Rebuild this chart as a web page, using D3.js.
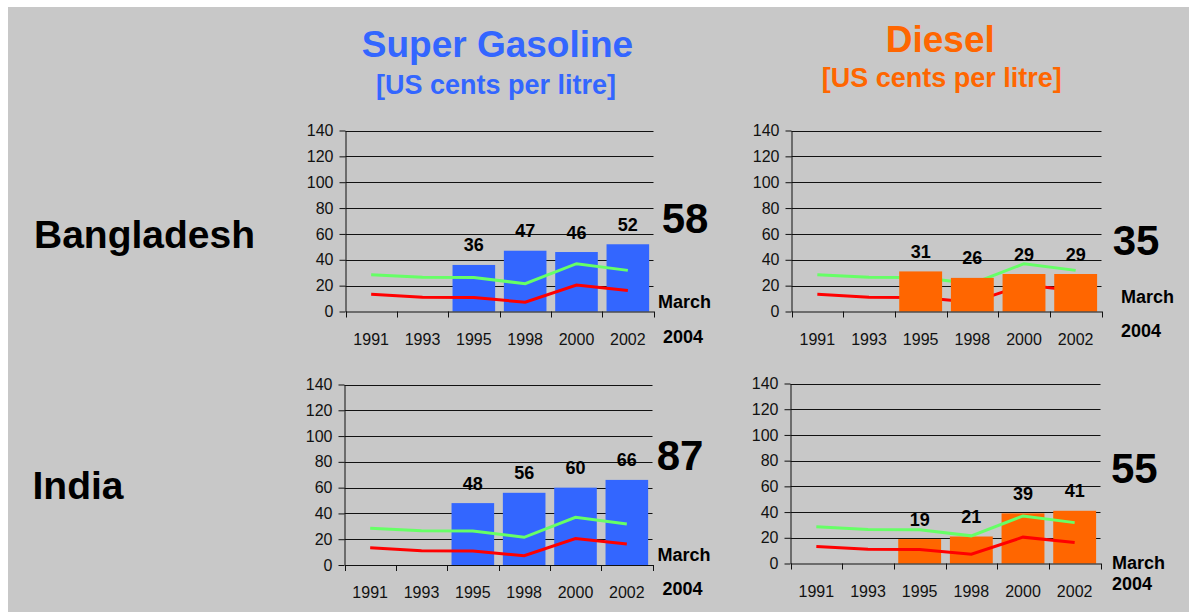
<!DOCTYPE html>
<html><head><meta charset="utf-8">
<script src="https://cdn.jsdelivr.net/npm/d3@7"></script>
<style>
body{margin:0;background:#fff;}
svg{display:block;font-family:"Liberation Sans",Arial,Helvetica,sans-serif;}
</style>
</head><body>
<svg id="chart" width="1189" height="612"></svg>
<script>
// ---------- data ----------
const years = ["1991","1993","1995","1998","2000","2002"];
const yTicks = [0,20,40,60,80,100,120,140];
const gasolineBangladesh = [null,null,36,47,46,52];
const dieselBangladesh   = [null,null,31,26,29,29];
const gasolineIndia      = [null,null,48,56,60,66];
const dieselIndia        = [null,null,19,21,39,41];
const greenLine = [28.5,26.5,26.3,21.5,37,31.8];
const redLine   = [13.3,11,10.8,7.2,20.5,16.3];
const march2004Values = [58,35,87,55]; // BD gasoline, BD diesel, IN gasoline, IN diesel
const fuelTitles = ["Super Gasoline","Diesel"];
const unitLabel = "[US cents per litre]";
const countries = ["Bangladesh","India"];
const latestLabel = ["March","2004"];

// ---------- drawing ----------
const svg = d3.select("#chart");
svg.append("rect").attr("x",8).attr("y",7).attr("width",1181).attr("height",605).attr("fill","#c8c8c8");

const BLUE = "#3366ff", ORANGE = "#ff6600", GREEN = "#66ff66", RED = "#ff0000", INK = "#111";

// titles
const titleLayout = [
  {cx:497.5, ty:56.7, scx:496, sy:94, color:BLUE},
  {cx:940.3, ty:51.7, scx:941.7, sy:87.3, color:ORANGE}
];
fuelTitles.forEach((t,i)=>{
  const L = titleLayout[i];
  svg.append("text").attr("x",L.cx).attr("y",L.ty).attr("text-anchor","middle")
    .attr("font-size",37).attr("font-weight","bold").attr("fill",L.color).text(t);
  svg.append("text").attr("x",L.scx).attr("y",L.sy).attr("text-anchor","middle")
    .attr("font-size",27).attr("font-weight","bold").attr("fill",L.color).text(unitLabel);
});

// country labels
const countryLayout = [{x:34,y:248.3},{x:32.5,y:499}];
countries.forEach((c,i)=>{
  svg.append("text").attr("x",countryLayout[i].x).attr("y",countryLayout[i].y)
    .attr("font-size",39).attr("font-weight","bold").attr("fill","#000").text(c);
});

const panels = [
  {values:gasolineBangladesh, latest:march2004Values[0], color:BLUE, x0:345.5, x1:653.5, yTop:130.5, yBot:311.5, linesOnTop:true,
   bigX:685, bigY:233, mX:658, mY:308, y4X:663, y4Y:342.7},
  {values:dieselBangladesh, latest:march2004Values[1], color:ORANGE, x0:791.5, x1:1101.5, yTop:130.5, yBot:311.5, linesOnTop:false,
   bigX:1136, bigY:255, mX:1121, mY:303.3, y4X:1121, y4Y:337.3},
  {values:gasolineIndia, latest:march2004Values[2], color:BLUE, x0:344.5, x1:652.5, yTop:384.5, yBot:565, linesOnTop:true,
   bigX:680, bigY:470, mX:657.5, mY:560.7, y4X:662.5, y4Y:595},
  {values:dieselIndia, latest:march2004Values[3], color:ORANGE, x0:790.5, x1:1100.5, yTop:383.5, yBot:563.5, linesOnTop:true,
   bigX:1134.3, bigY:482.7, mX:1112, mY:569, y4X:1112, y4Y:590}
];

panels.forEach(p=>{
  const g = svg.append("g");
  const x = d3.scaleBand().domain(years).range([p.x0,p.x1]).paddingInner(0.17).paddingOuter(0.085);
  const y = d3.scaleLinear().domain([0,140]).range([p.yBot,p.yTop]);
  const bw = x.bandwidth();
  const cx = i => x(years[i]) + bw/2;
  const crisp = v => Math.round(v) + 0.5;

  // gridlines
  g.append("g").selectAll("line").data(yTicks.filter(v=>v>0)).join("line")
    .attr("x1",p.x0).attr("x2",p.x1)
    .attr("y1",d=>crisp(y(d))).attr("y2",d=>crisp(y(d)))
    .attr("stroke",INK).attr("stroke-width",1);

  const barsG = g.append("g");
  const linesG = g.append("g");
  if(!p.linesOnTop){ barsG.raise(); }

  // bars
  const barData = p.values.map((v,i)=>({year:years[i], v})).filter(d=>d.v!=null);
  barsG.selectAll("rect").data(barData).join("rect")
    .attr("x",d=>x(d.year)).attr("width",bw)
    .attr("y",d=>y(d.v)).attr("height",d=>y(0)-y(d.v))
    .attr("fill",p.color);

  // lines
  const line = d3.line().x((d,i)=>cx(i)).y(d=>y(d));
  linesG.append("path").datum(greenLine).attr("d",line).attr("fill","none").attr("stroke",GREEN).attr("stroke-width",3);
  linesG.append("path").datum(redLine).attr("d",line).attr("fill","none").attr("stroke",RED).attr("stroke-width",3);

  // y axis
  const ya = g.append("g").attr("transform",`translate(${p.x0},0)`)
    .call(d3.axisLeft(y).tickValues(yTicks).tickSize(6).tickSizeOuter(0).tickPadding(6));
  ya.selectAll("line").attr("stroke",INK);
  ya.select(".domain").attr("stroke",INK);
  ya.selectAll("text").attr("font-size",16).attr("fill",INK).attr("font-family","Liberation Sans, Arial, sans-serif");

  // x axis
  const xa = g.append("g").attr("transform",`translate(0,${p.yBot})`)
    .call(d3.axisBottom(x).tickSize(0).tickSizeOuter(0).tickPadding(22));
  xa.select(".domain").attr("stroke",INK);
  xa.selectAll("text").attr("font-size",16).attr("fill",INK).attr("font-family","Liberation Sans, Arial, sans-serif");
  const bounds = years.map(d=>x(d) - x.step()*x.paddingInner()/2).concat([p.x1]);
  g.append("g").selectAll("line").data(bounds).join("line")
    .attr("x1",d=>crisp(d)-0.0).attr("x2",d=>crisp(d))
    .attr("y1",p.yBot).attr("y2",p.yBot+6).attr("stroke",INK);

  // value labels
  g.append("g").selectAll("text").data(barData).join("text")
    .attr("x",d=>x(d.year)+bw/2).attr("y",d=>y(d.v)-13.5)
    .attr("text-anchor","middle").attr("font-size",18).attr("font-weight","bold").attr("fill","#000")
    .text(d=>d.v);

  // latest (March 2004)
  g.append("text").attr("x",p.bigX).attr("y",p.bigY).attr("text-anchor","middle")
    .attr("font-size",42).attr("font-weight","bold").attr("fill","#000").text(p.latest);
  g.append("text").attr("x",p.mX).attr("y",p.mY)
    .attr("font-size",18).attr("font-weight","bold").attr("fill","#000").text(latestLabel[0]);
  g.append("text").attr("x",p.y4X).attr("y",p.y4Y)
    .attr("font-size",18).attr("font-weight","bold").attr("fill","#000").text(latestLabel[1]);
});
</script>
</body></html>
